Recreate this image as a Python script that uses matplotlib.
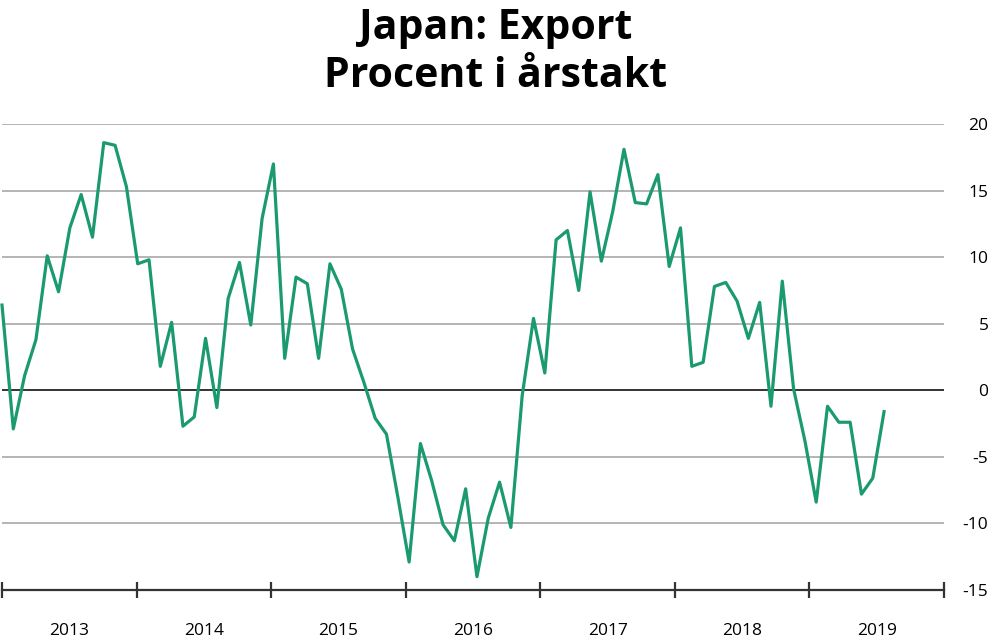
import matplotlib
matplotlib.use('Agg')
import matplotlib.pyplot as plt
from matplotlib.ticker import FixedLocator, NullFormatter

# Japan, export, percent y/y, monthly Jan 2013 - Jul 2019
years = ['2013', '2014', '2015', '2016', '2017', '2018', '2019']
export_yoy = [
    6.4, -2.9, 1.1, 3.8, 10.1, 7.4, 12.2, 14.7, 11.5, 18.6, 18.4, 15.3,
    9.5, 9.8, 1.8, 5.1, -2.7, -2.0, 3.9, -1.3, 6.9, 9.6, 4.9, 12.9,
    17.0, 2.4, 8.5, 8.0, 2.4, 9.5, 7.6, 3.1, 0.6, -2.1, -3.3, -8.0,
    -12.9, -4.0, -6.8, -10.1, -11.3, -7.4, -14.0, -9.6, -6.9, -10.3, -0.4, 5.4,
    1.3, 11.3, 12.0, 7.5, 14.9, 9.7, 13.4, 18.1, 14.1, 14.0, 16.2, 9.3,
    12.2, 1.8, 2.1, 7.8, 8.1, 6.7, 3.9, 6.6, -1.2, 8.2, 0.1, -3.8,
    -8.4, -1.2, -2.4, -2.4, -7.8, -6.6, -1.6,
]
y_ticks = [20, 15, 10, 5, 0, -5, -10, -15]

line_color = '#1b9a72'
grid_color = '#b4b4b4'
year_span = 11.9  # year bands in the original are a bit narrower than 12 months

plt.rcParams['font.family'] = ['Open Sans', 'DejaVu Sans']

fig = plt.figure(figsize=(9.91, 6.4), dpi=100)
ax = fig.add_axes([2 / 991, 50 / 640, 942 / 991, 466 / 640])

months = list(range(len(export_yoy)))
ax.plot(months, export_yoy, color=line_color, linewidth=2.3, clip_on=False, zorder=3)

ax.set_xlim(0, year_span * len(years))
ax.set_ylim(-15, 20)

# horizontal grid
for v in y_ticks[:-1]:
    if v == 0:
        ax.axhline(v, color='#333333', linewidth=1.4, zorder=2)
    else:
        ax.axhline(v, color=grid_color, linewidth=1.4, zorder=1)

for s in ['top', 'left', 'right']:
    ax.spines[s].set_visible(False)
ax.spines['bottom'].set_color('#333333')
ax.spines['bottom'].set_linewidth(1.6)

# y labels on the right
ax.yaxis.tick_right()
ax.set_yticks(y_ticks)
ax.set_yticklabels([str(v) for v in y_ticks])
ax.tick_params(axis='y', length=0, pad=32, labelsize=12.5)
for lbl in ax.get_yticklabels():
    lbl.set_horizontalalignment('right')

# x: year boundaries as major ticks, year names at mid-year
ax.xaxis.set_major_locator(FixedLocator([year_span * i for i in range(len(years) + 1)]))
ax.xaxis.set_major_formatter(NullFormatter())
ax.xaxis.set_minor_locator(FixedLocator([year_span * (i + 0.5) for i in range(len(years))]))
ax.set_xticklabels(years, minor=True)
ax.tick_params(axis='x', which='major', direction='inout', length=12, width=1.6, color='#333333')
ax.tick_params(axis='x', which='minor', length=0, pad=24, labelsize=12.5)

fig.text(0.5, 0.956, 'Japan: Export', ha='center', va='center',
         fontsize=29.5, fontweight='bold', color='black')
fig.text(0.5, 0.880, 'Procent i årstakt', ha='center', va='center',
         fontsize=29.5, fontweight='bold', color='black')

fig.savefig('out.png', dpi=100, facecolor='white')
